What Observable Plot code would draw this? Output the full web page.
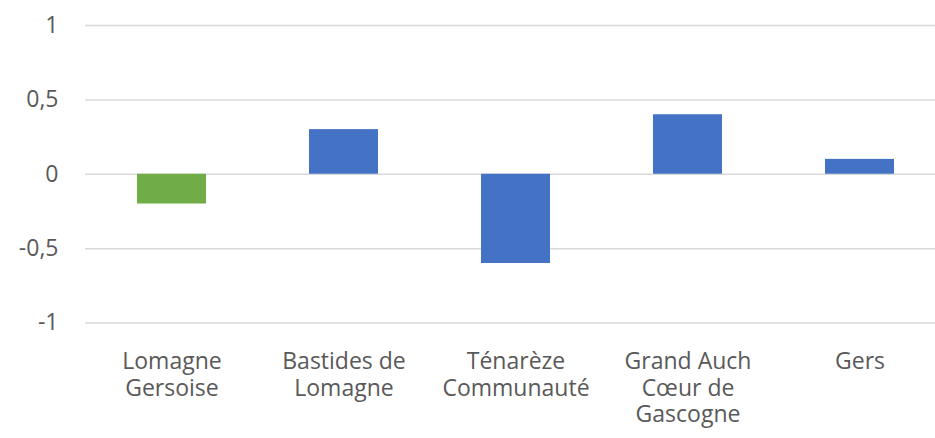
<!DOCTYPE html>
<html>
<head>
<meta charset="utf-8">
<script src="https://cdn.jsdelivr.net/npm/d3@7"></script>
<script src="https://cdn.jsdelivr.net/npm/@observablehq/plot@0.6"></script>
<style>
  html, body { margin: 0; padding: 0; background: #fff; }
  #chart { width: 935px; height: 438px; overflow: hidden; }
</style>
</head>
<body>
<div id="chart"></div>
<script>
const categories = ["Lomagne\nGersoise", "Bastides de\nLomagne", "Ténarèze\nCommunauté", "Grand Auch\nCœur de\nGascogne", "Gers"];
const values = [-0.2, 0.3, -0.6, 0.4, 0.1];
const yTicks = [-1, -0.5, 0, 0.5, 1];

const GREEN = "#70AD47", BLUE = "#4472C4";
const fills = [GREEN, BLUE, BLUE, BLUE, BLUE];

const data = categories.map((c, i) => ({ category: c, value: values[i], fill: fills[i] }));

const font = "'Open Sans', 'Liberation Sans', sans-serif";

const chart = Plot.plot({
  width: 935,
  height: 438,
  marginLeft: 85,
  marginRight: 0,
  marginTop: 25,
  marginBottom: 115.5,
  style: { fontFamily: font, background: "#fff", overflow: "visible" },
  x: { domain: categories, range: [85.5, 945.5], paddingInner: 0.6, paddingOuter: 0.3, axis: null },
  y: { domain: [-1, 1], axis: null },
  marks: [
    Plot.ruleY(yTicks, { stroke: "#d9d9d9", strokeWidth: 1.5 }),
    Plot.barY(data, { x: "category", y: "value", fill: "fill" }),
    Plot.axisY({
      ticks: yTicks,
      tickSize: 0,
      tickPadding: 27,
      tickFormat: d => String(d).replace(".", ","),
      fontSize: 23,
      fill: "#595959",
      label: null
    }),
    Plot.text(data, {
      x: "category",
      y: () => -1,
      text: "category",
      dy: 27.5,
      lineAnchor: "top",
      lineHeight: 1.152,
      fontSize: 23,
      fill: "#595959",
      textAnchor: "middle"
    })
  ]
});

document.getElementById("chart").appendChild(chart);
</script>
</body>
</html>
